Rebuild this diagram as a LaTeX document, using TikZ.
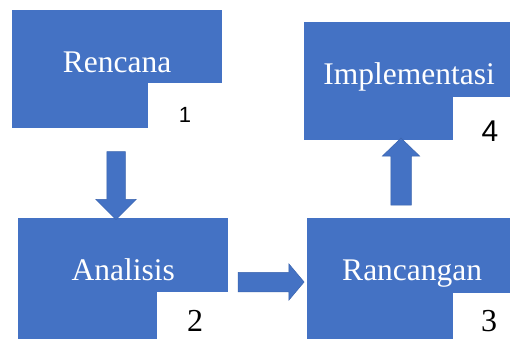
\documentclass[tikz,border=0pt]{standalone}
\usepackage{fontspec}
\setmainfont{Liberation Serif}
\newfontfamily\numsans{Liberation Sans}
\usetikzlibrary{shapes.arrows}
\definecolor{boxblue}{HTML}{4472C4}
\definecolor{arrowline}{HTML}{3A64AE}
\begin{document}
\begin{tikzpicture}[x=1pt,y=-1pt,
  stage/.style={fill=boxblue, draw=none, inner sep=0pt, anchor=north west,
    minimum width=210pt, minimum height=118pt, text=white,
    text height=0.66em, text depth=0pt, font=\fontsize{31.5}{36}\selectfont},
  tag/.style={fill=white, draw=none, inner sep=0pt, anchor=south east},
  flow/.style={single arrow, fill=boxblue, draw=arrowline, line width=0.5pt,
    inner sep=0pt, text height=0pt, text depth=0pt, minimum width=0pt,
    single arrow head indent=0pt},
  serifnum/.style={anchor=base, inner sep=0pt, font=\fontsize{32}{34}\selectfont},
  sansnum/.style={anchor=base, inner sep=0pt, font=\numsans}]
\fill[white] (0,0) rectangle (510,338);
\useasboundingbox (0,0) rectangle (510,338);

% the four stages
\node[stage] (s1) at (12,10)   {Rencana};
\node[stage] (s2) at (18,218)  {Analisis};
\node[stage] (s3) at (307,218) {Rancangan};
\node[stage] (s4) at (304,22)  {Implementasi};
\fill[boxblue] (s2.south west) rectangle ([yshift=-3pt]s2.south east);
\fill[boxblue] (s3.south west) rectangle ([yshift=-3pt]s3.south east);

% white corner tabs carrying the step numbers
\node[tag, minimum width=74pt, minimum height=45pt] (t1) at (s1.south east) {};
\node[tag, minimum width=71pt, minimum height=47pt] (t2) at ([yshift=-3pt]s2.south east) {};
\node[tag, minimum width=64pt, minimum height=46pt] (t3) at ([yshift=-3pt]s3.south east) {};
\node[tag, minimum width=61pt, minimum height=43pt] (t4) at (s4.south east) {};

\node[sansnum, font=\numsans\fontsize{22}{24}\selectfont] (n1) at (185,122) {1};
\node[serifnum] (n2) at (195,331) {2};
\node[serifnum] (n3) at (489,331) {3};
\node[sansnum, font=\numsans\fontsize{30}{32}\selectfont] (n4) at (490,141) {4};

% block arrows between the stages (shaft width set by the inner sep
% across the arrow's direction)
\node[flow, minimum height=68pt, inner xsep=9pt, single arrow head extend=11pt,
  single arrow tip angle=90, shape border rotate=270] (a12) at (116,181) {};
\node[flow, minimum height=66pt, inner ysep=9.5pt, single arrow head extend=8.5pt,
  single arrow tip angle=100] (a23) at (267,282) {};
\node[flow, minimum height=67pt, inner xsep=10pt, single arrow head extend=8.5pt,
  single arrow tip angle=92, shape border rotate=90] (a34) at (401,176.5) {};
\end{tikzpicture}
\end{document}
